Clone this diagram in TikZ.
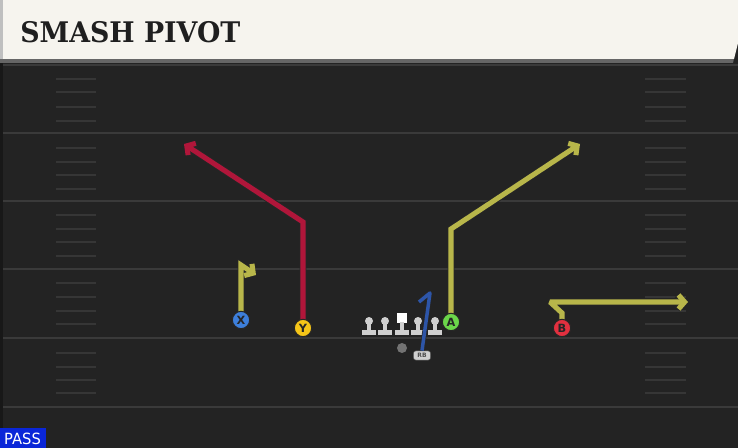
\documentclass[tikz,border=0pt]{standalone}
\usepackage{fontspec}
\setmainfont{DejaVu Sans}
\newfontfamily\titlefont{DejaVu Serif}
\usetikzlibrary{arrows.meta}
\definecolor{bg}{HTML}{232323}
\definecolor{fieldline}{HTML}{3A3A3A}
\definecolor{hashc}{HTML}{363636}
\definecolor{cream}{HTML}{F6F4EE}
\definecolor{routeyel}{HTML}{B8B64A}
\definecolor{routered}{HTML}{B0163A}
\definecolor{routeblue}{HTML}{2D55A8}
\definecolor{pX}{HTML}{3D7FDB}
\definecolor{pY}{HTML}{F5C518}
\definecolor{pA}{HTML}{6BD64A}
\definecolor{pB}{HTML}{E2303F}
\definecolor{passblue}{HTML}{0A26D8}
\definecolor{olgray}{HTML}{D0D0D0}
\pgfdeclarelayer{field}
\pgfdeclarelayer{routes}
\pgfsetlayers{field,routes,main}
\tikzset{
  fline/.style={draw=fieldline, line width=1.5pt},
  hashmark/.style={draw=hashc, line width=1.2pt},
  player/.style={circle, draw=black!85, line width=0.8pt, fill=#1, minimum size=13pt, inner sep=0pt,
    font=\bfseries\fontsize{8.5}{8.5}\selectfont, text=black!85},
  routeout/.style={draw=black!85, line width=5.2pt, line join=miter, miter limit=2.5, -{Straight Barb[length=4.6pt,width=10.5pt]}},
  routein/.style={draw=#1, line width=3.8pt, line join=miter, miter limit=2.5, -{Straight Barb[length=4.6pt,width=10.5pt]}},
  olm/.style={fill=olgray},
  rbbox/.style={rounded corners=2pt, fill=olgray, draw=black!70, line width=0.4pt, minimum width=13pt, minimum height=7pt, inner sep=0pt,
    font=\bfseries\fontsize{4.5}{4.5}\selectfont, text=black!70},
}
\begin{document}
\begin{tikzpicture}[x=0.75pt,y=-0.75pt]
\useasboundingbox (0,0) rectangle (738,448);
\begin{pgfonlayer}{field}
\fill[bg] (0,0) rectangle (738,448);
\draw[draw=black!30!bg, line width=1.5pt] (1.5,60) -- (1.5,448);
\foreach \y in {65,133,201,269,338,407} \draw[fline] (3,\y) -- (738,\y);
\foreach \y in {79,92,107,121,148,162,175,189,215,229,242,256,283,297,311,324,353,367,380,393}
  {\draw[hashmark] (56,\y) -- (96,\y); \draw[hashmark] (645,\y) -- (686,\y);}
% title bar
\fill[black!60] (0,58) -- (734,58) -- (733,63) -- (0,63) -- cycle;
\fill[cream] (0,0) -- (738,0) -- (738,43) -- (734,59) -- (0,59) -- cycle;
\fill[black!25] (0,0) rectangle (3,59);
\end{pgfonlayer}
\node[anchor=west, inner sep=0pt, text=black!88] (title) at (20,32.5)
  {\resizebox{165pt}{15.8pt}{\titlefont\bfseries SMASH PIVOT}};
% players
\node[player=pX] (X) at (241,320) {X};
\node[player=pY] (Y) at (303,328) {Y};
\node[player=pA] (A) at (451,322) {A};
\node[player=pB] (B) at (562,328) {B};
% offensive line
\foreach \x in {369,385,418,435} {
  \fill[olm] (\x,321) circle (4);
  \fill[olm] (\x-2.2,321) rectangle (\x+2.2,331);
  \fill[olm] (\x-7,330) rectangle (\x+7,335.5);
}
\fill[white] (397,313) rectangle (407,323);
\fill[olm] (399.8,322) rectangle (404.2,331);
\fill[olm] (395,330) rectangle (409,335.5);
\node[circle, fill=black!55, minimum size=7.5pt, inner sep=0pt] (QB) at (402,348) {};
\node[rbbox] (RB) at (422,355.5) {RB};
% route bends
\coordinate (x1) at (241,265); \coordinate (x2) at (256,275);
\coordinate (y1) at (303,222); \coordinate (y2) at (184,144);
\coordinate (a1) at (451,229); \coordinate (a2) at (580,144);
\coordinate (b1) at (562,313); \coordinate (b2) at (550,302); \coordinate (b3) at (688,302);
\coordinate (r1) at (430,293); \coordinate (r2) at (419,302);
\begin{pgfonlayer}{routes}
\draw[routeout] (X.center) -- (x1) -- (x2);
\draw[routein=routeyel] (X.center) -- (x1) -- (x2);
\draw[routeout] (Y.center) -- (y1) -- (y2);
\draw[routein=routered] (Y.center) -- (y1) -- (y2);
\draw[routeout] (A.center) -- (a1) -- (a2);
\draw[routein=routeyel] (A.center) -- (a1) -- (a2);
\draw[routeout] (B.center) -- (b1) -- (b2) -- (b3);
\draw[routein=routeyel] (B.center) -- (b1) -- (b2) -- (b3);
\end{pgfonlayer}
\draw[draw=black!85, line width=3.6pt, line join=round] (RB.north) -- (r1) -- (r2);
\draw[draw=routeblue, line width=2.6pt, line join=round] (RB.north) -- (r1) -- (r2);
% PASS tag
\fill[passblue] (0,428) rectangle (46,448);
\node[inner sep=0pt, text=white] (pass) at (22.5,439)
  {\resizebox{27.5pt}{8.6pt}{PASS}};
\end{tikzpicture}
\end{document}
